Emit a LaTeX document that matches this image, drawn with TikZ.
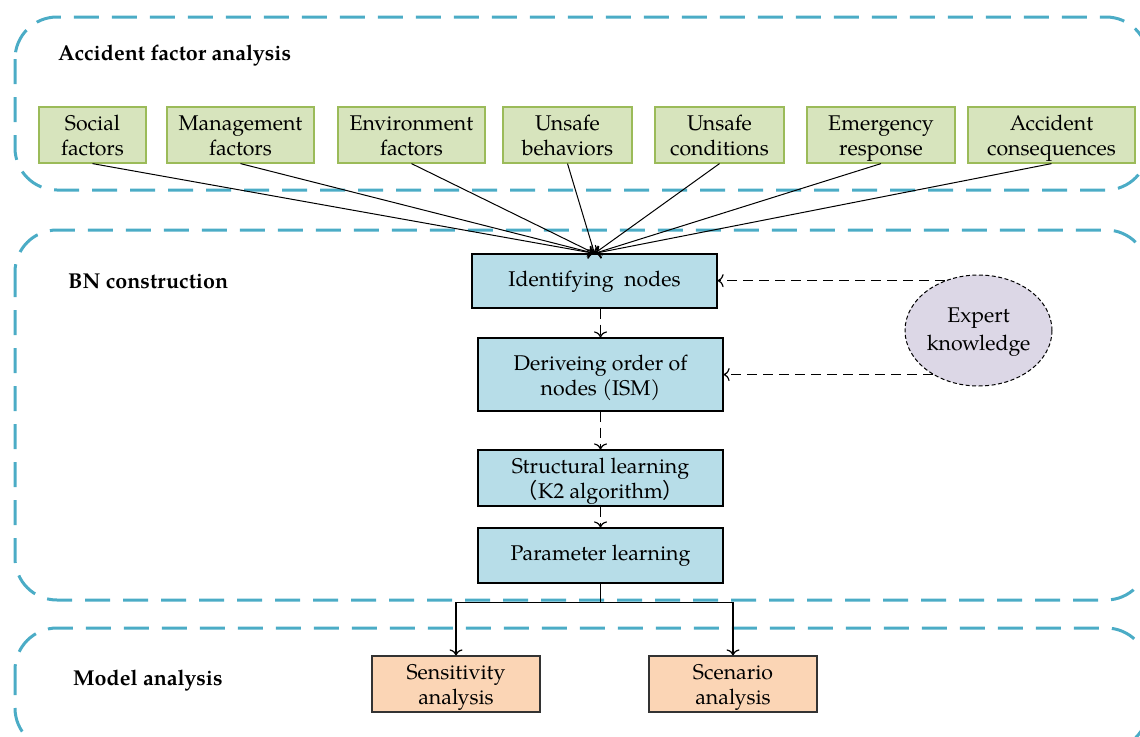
\documentclass[tikz,border=0pt]{standalone}
\usepackage{fontspec}
\setmainfont{TeX Gyre Pagella}
\newfontfamily\cjk{Noto Sans CJK SC}
\usetikzlibrary{shapes.geometric,arrows.meta,calc}
\newcommand\topstrut{\rule{0pt}{23.5pt}}
\definecolor{regc}{HTML}{4BACC6}
\definecolor{gfill}{HTML}{D7E4BD}
\definecolor{gdraw}{HTML}{9BBB59}
\definecolor{bfill}{HTML}{B7DDE8}
\definecolor{ofill}{HTML}{FBD5B5}
\definecolor{efill}{HTML}{DCD7E6}
\tikzset{
  region/.style={draw=regc,line width=3pt,dash pattern=on 25pt off 13pt,rounded corners=42pt},
  rlabel/.style={font=\fontsize{21.5}{25}\selectfont\bfseries,anchor=west,inner sep=0pt},
  gbox/.style={draw=gdraw,fill=gfill,line width=1.2pt,minimum height=54pt,inner sep=0pt,align=center,font=\fontsize{21.3}{25}\selectfont},
  bbox/.style={draw=black,fill=bfill,line width=1.2pt,minimum width=245pt,inner sep=0pt,align=center,font=\fontsize{21.3}{25}\selectfont},
  obox/.style={draw=black!80,fill=ofill,line width=1.2pt,minimum width=168pt,minimum height=54pt,inner sep=0pt,align=center,font=\fontsize{21.3}{25}\selectfont},
  tip/.style={-{To[length=6pt,width=13pt,line width=1.2pt]}},
  dline/.style={tip,dash pattern=on 10pt off 6pt,line width=1.3pt},
  sline/.style={tip,line width=1.3pt},
  fline/.style={tip,line width=1pt}
}
\begin{document}
\begin{tikzpicture}[x=1pt,y=-1pt]
\useasboundingbox (0,0) rectangle (1140,736);
% regions
\draw[region] (15,17) rectangle (1148,190);
\draw[region] (15,230) rectangle (1148,600);
\draw[region] (15,628) rectangle (1148,750);
\node[rlabel] (l1) at (58,56) {Accident factor analysis};
\node[rlabel] (l2) at (68,281) {BN construction};
\node[rlabel] (l3) at (73,681) {Model analysis};
% green boxes
\node[gbox,minimum width=107pt] (soc) at (92.5,135) {\topstrut Social\\factors\strut};
\node[gbox,minimum width=147pt] (man) at (240.5,135) {\topstrut Management\\factors\strut};
\node[gbox,minimum width=147pt] (env) at (411.5,135) {\topstrut Environment\\factors\strut};
\node[gbox,minimum width=129pt] (ub) at (567.5,135) {\topstrut Unsafe\\behaviors\strut};
\node[gbox,minimum width=129pt] (uc) at (719.5,135) {\topstrut Unsafe\\conditions\strut};
\node[gbox,minimum width=148pt] (er) at (881,135) {\topstrut Emergency\\response\strut};
\node[gbox,minimum width=167pt] (ac) at (1051.5,135) {\topstrut Accident\\consequences\strut};
% blue boxes
\node[bbox,minimum height=54pt] (idn) at (594.5,281) {Identifying\ \ nodes\strut};
\node[bbox,minimum height=73pt] (der) at (600.5,374.5) {\topstrut Deriveing order of\\nodes (ISM)\strut};
\node[bbox,minimum height=54pt] (str) at (600.5,478) {\topstrut Structural learning\\{\cjk （}K2 algorithm{\cjk ）}\strut};
\node[bbox,minimum height=55pt] (par) at (600.5,555.5) {Parameter learning\strut};
% orange boxes
\node[obox] (sen) at (456,684) {\topstrut Sensitivity\\analysis\strut};
\node[obox] (sce) at (733,684) {\topstrut Scenario\\analysis\strut};
% expert knowledge
\node[ellipse,draw=black,dash pattern=on 4pt off 2.5pt,line width=1pt,fill=efill,minimum width=147pt,minimum height=111pt,inner sep=0pt,align=center,font=\fontsize{21.3}{28}\selectfont] (ek) at (978.5,330.5) {Expert\strut\\knowledge\strut};
% factor connectors
\foreach \n in {soc,man,env,ub,uc,er,ac}{
  \draw[fline] (\n.south) -- (idn.north);
}
% BN chain
\draw[dline] (idn.south -| der.north) -- (der.north);
\draw[dline] (der.south) -- (str.north);
\draw[dline] (str.south) -- (par.north);
% expert knowledge
\draw[dline] (ek.124) -- (ek.124 -| idn.east);
\draw[dline] (ek.224) -- (ek.224 -| der.east);
% tree
\coordinate (j) at ($(par.south)+(0,19)$);
\draw[line width=1.5pt] (par.south) -- (j);
\draw[sline,line width=1.5pt] (j) -| (sen.north);
\draw[sline,line width=1.5pt] (j) -| (sce.north);
\end{tikzpicture}
\end{document}
